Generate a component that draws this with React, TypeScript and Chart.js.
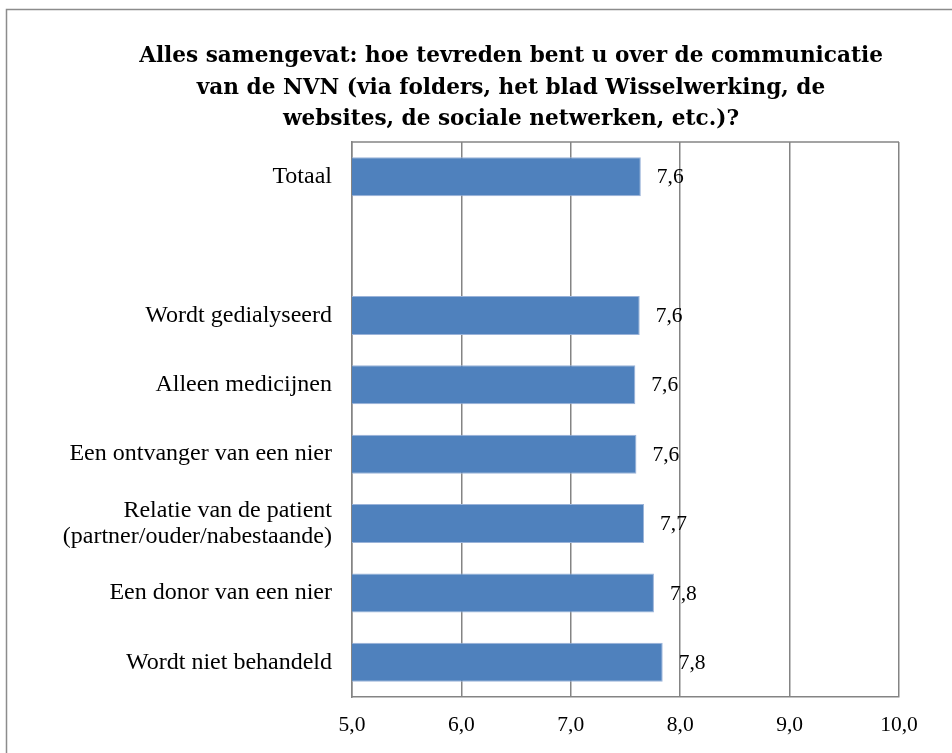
import React, { useEffect, useRef } from "react";
import { Chart, registerables } from "chart.js";

Chart.register(...registerables);

const TITLE_LINES = [
  "Alles samengevat: hoe tevreden bent u over de communicatie",
  "van de NVN (via folders, het blad Wisselwerking, de",
  "websites, de sociale netwerken, etc.)?",
];

const CATEGORIES: (string | string[])[] = [
  "Totaal",
  "",
  "Wordt gedialyseerd",
  "Alleen medicijnen",
  "Een ontvanger van een nier",
  ["Relatie van de patient", "(partner/ouder/nabestaande)"],
  "Een donor van een nier",
  "Wordt niet behandeld",
];

const VALUES: (number | null)[] = [7.64, null, 7.63, 7.59, 7.6, 7.67, 7.76, 7.84];

const X_MIN = 5;
const X_MAX = 10;
const X_STEP = 1;

const fmt = (v: number) => v.toFixed(1).replace(".", ",");

const GRID = "#848484";
const SERIF = "'Liberation Serif', 'Times New Roman', serif";

export default function App() {
  const ref = useRef<HTMLCanvasElement | null>(null);

  useEffect(() => {
    if (!ref.current) return;

    const decor = {
      id: "decor",
      afterDatasetsDraw(chart: any) {
        const ctx = chart.ctx;
        const meta = chart.getDatasetMeta(0);
        ctx.save();
        ctx.fillStyle = "#000";
        ctx.font = `21.5px ${SERIF}`;
        ctx.textAlign = "left";
        ctx.textBaseline = "middle";
        meta.data.forEach((bar: any, i: number) => {
          const v = VALUES[i];
          if (v == null) return;
          ctx.fillText(fmt(v), bar.x + 16, bar.y + 1);
        });
        ctx.restore();
      },
      afterDraw(chart: any) {
        const ctx = chart.ctx;
        const a = chart.chartArea;
        ctx.save();
        ctx.strokeStyle = GRID;
        ctx.lineWidth = 1.5;
        ctx.beginPath();
        ctx.moveTo(a.left, a.top);
        ctx.lineTo(a.right, a.top);
        ctx.stroke();
        ctx.strokeStyle = "#8c8c8c";
        ctx.lineWidth = 1.5;
        ctx.strokeRect(6.5, 9.5, 2000, 2000);
        ctx.fillStyle = "#000";
        ctx.font = `bold 21.6px 'DejaVu Serif', serif`;
        ctx.textAlign = "center";
        ctx.textBaseline = "alphabetic";
        const baselines = [62, 94, 125];
        TITLE_LINES.forEach((t, i) => ctx.fillText(t, 511, baselines[i]));
        ctx.restore();
      },
    };

    const chart = new Chart(ref.current, {
      type: "bar",
      data: {
        labels: CATEGORIES as any,
        datasets: [
          {
            data: VALUES as any,
            backgroundColor: "#4F81BD",
            borderColor: "#9AB3D9",
            borderWidth: 1,
            barPercentage: 0.562,
            categoryPercentage: 1,
          },
        ],
      },
      options: {
        indexAxis: "y",
        responsive: false,
        animation: false,
        layout: { padding: { top: 142, right: 53, left: 0, bottom: 0 } },
        plugins: {
          legend: { display: false },
          tooltip: { enabled: false },
          title: { display: false },
        },
        scales: {
          x: {
            min: X_MIN,
            max: X_MAX,
            ticks: {
              stepSize: X_STEP,
              callback: (v: any) => fmt(Number(v)),
              font: { family: SERIF, size: 21.5 },
              color: "#000",
              padding: 15,
            },
            grid: { color: GRID, lineWidth: 1.5, drawTicks: false },
            border: { display: true, color: GRID, width: 1.5 },
            afterFit: (s: any) => {
              s.height = 56;
            },
          },
          y: {
            grid: { display: false, drawTicks: false },
            border: { display: true, color: GRID, width: 1.5 },
            ticks: {
              font: { family: SERIF, size: 24, lineHeight: 1.08 },
              color: "#000",
              padding: 20,
              autoSkip: false,
            },
            afterFit: (s: any) => {
              s.width = 352;
            },
          },
        },
      },
      plugins: [decor],
    });

    return () => chart.destroy();
  }, []);

  return (
    <div
      style={{
        position: "fixed",
        left: 0,
        top: 0,
        width: 952,
        height: 753,
        background: "#fff",
      }}
    >
      <canvas ref={ref} width={952} height={753} style={{ width: 952, height: 753 }} />
    </div>
  );
}
